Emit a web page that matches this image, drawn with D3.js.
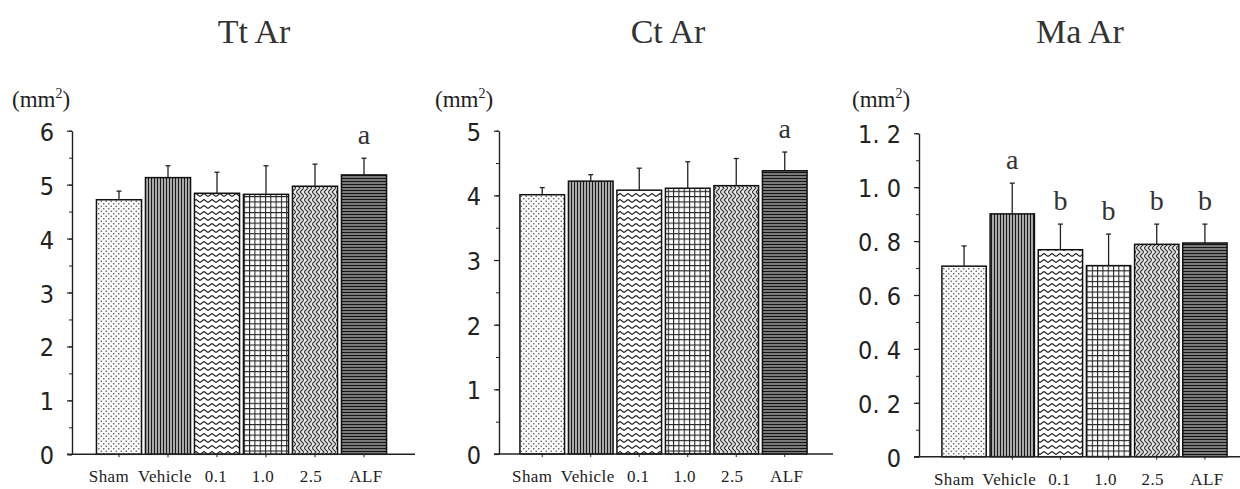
<!DOCTYPE html>
<html>
<head>
<meta charset="utf-8">
<script src="https://cdn.jsdelivr.net/npm/d3@7"></script>
<style>
  html, body { margin: 0; padding: 0; background: #fff; }
  svg { display: block; }
</style>
</head>
<body>
<svg id="chart" width="1240" height="489"></svg>
<script>
// ---------------- data ----------------
const categories = ["Sham", "Vehicle", "0.1", "1.0", "2.5", "ALF"];

const ttArMean = [4.72, 5.13, 4.84, 4.82, 4.97, 5.18];
const ttArSD   = [0.16, 0.22, 0.39, 0.53, 0.41, 0.31];
const ttArSig  = ["", "", "", "", "", "a"];
const ttArTicks = [0, 1, 2, 3, 4, 5, 6];
const ttArTickLabels = ["0", "1", "2", "3", "4", "5", "6"];

const ctArMean = [4.01, 4.22, 4.08, 4.11, 4.15, 4.38];
const ctArSD   = [0.11, 0.10, 0.34, 0.41, 0.42, 0.29];
const ctArSig  = ["", "", "", "", "", "a"];
const ctArTicks = [0, 1, 2, 3, 4, 5];
const ctArTickLabels = ["0", "1", "2", "3", "4", "5"];

const maArMean = [0.707, 0.901, 0.768, 0.709, 0.788, 0.793];
const maArSD   = [0.075, 0.114, 0.095, 0.117, 0.075, 0.070];
const maArSig  = ["", "a", "b", "b", "b", "b"];
const maArTicks = [0, 0.2, 0.4, 0.6, 0.8, 1.0, 1.2];
const maArTickLabels = ["0", "0. 2", "0. 4", "0. 6", "0. 8", "1. 0", "1. 2"];

const titles = ["Tt Ar", "Ct Ar", "Ma Ar"];
const unitLabel = "(mm", unitSup = "2";

// ---------------- layout ----------------
const labelShift = [-10, -3, -1, -3, -4, 2];   // small horizontal nudges of category labels
const panels = [
  { title: titles[0], mean: ttArMean, sd: ttArSD, sig: ttArSig, ticks: ttArTicks, tickLabels: ttArTickLabels,
    max: 6, minorStep: 0.5, axisX: 72, y0: 454.3, yTop: 130.7, band: [94.5, 388.5], xLineEnd: 415,
    titleX: 254, unitX: 12 },
  { title: titles[1], mean: ctArMean, sd: ctArSD, sig: ctArSig, ticks: ctArTicks, tickLabels: ctArTickLabels,
    max: 5, minorStep: 0.5, axisX: 499, y0: 454, yTop: 130.7, band: [518, 809], xLineEnd: 833,
    titleX: 668, unitX: 435 },
  { title: titles[2], mean: maArMean, sd: maArSD, sig: maArSig, ticks: maArTicks, tickLabels: maArTickLabels,
    max: 1.2, minorStep: 0.1, axisX: 919, y0: 456.7, yTop: 133.3, band: [940, 1229], xLineEnd: 1240,
    titleX: 1080, unitX: 852 }
];

const svg = d3.select("#chart");
const defs = svg.append("defs");
const ink = "#222";

// ---------------- patterns ----------------
function pat(id, w, h, bg) {
  const p = defs.append("pattern").attr("id", id).attr("patternUnits", "userSpaceOnUse")
    .attr("width", w).attr("height", h);
  p.append("rect").attr("width", w).attr("height", h).attr("fill", bg);
  return p;
}
// dots
{
  const p = pat("p0", 5, 5, "#fcfcfc");
  p.append("circle").attr("cx", 1.25).attr("cy", 1.25).attr("r", 0.8).attr("fill", "#555");
  p.append("circle").attr("cx", 3.75).attr("cy", 3.75).attr("r", 0.8).attr("fill", "#555");
}
// vertical lines
{
  const p = pat("p1", 3, 10, "#c4c4c4");
  p.append("line").attr("x1", 1.5).attr("x2", 1.5).attr("y1", 0).attr("y2", 10)
    .attr("stroke", "#1a1a1a").attr("stroke-width", 1.3);
}
// horizontal zigzag waves
{
  const p = pat("p2", 8, 6, "#fff");
  p.append("path").attr("d", "M0,4.5 L4,1.5 L8,4.5").attr("fill", "none")
    .attr("stroke", "#222").attr("stroke-width", 1.1);
}
// grid
{
  const p = pat("p3", 5.3, 5.3, "#fff");
  p.append("path").attr("d", "M0.5,0 V5.3 M0,0.5 H5.3").attr("fill", "none")
    .attr("stroke", "#222").attr("stroke-width", 1.1);
}
// herringbone-ish
{
  const p = pat("p4", 8, 8, "#e6e6e6");
  p.append("path").attr("d", "M0,0 L4,4 L0,8 M4,0 L8,4 L4,8").attr("fill", "none")
    .attr("stroke", "#333").attr("stroke-width", 1.1);
}
// horizontal lines dark
{
  const p = pat("p5", 10, 3, "#8c8c8c");
  p.append("line").attr("x1", 0).attr("x2", 10).attr("y1", 1.5).attr("y2", 1.5)
    .attr("stroke", "#151515").attr("stroke-width", 1.3);
}
const fills = ["url(#p0)", "url(#p1)", "url(#p2)", "url(#p3)", "url(#p4)", "url(#p5)"];

const serif = "'Liberation Serif', 'Times New Roman', serif";
const narrow = "'Liberation Sans Narrow', 'DejaVu Sans Condensed', 'Arial Narrow', sans-serif";

// ---------------- draw ----------------
panels.forEach(P => {
  const g = svg.append("g");
  const y = d3.scaleLinear().domain([0, P.max]).range([P.y0, P.yTop]);
  const x = d3.scaleBand().domain(categories).range(P.band).paddingInner(0.08).paddingOuter(0.04);

  // title
  g.append("text").attr("x", P.titleX).attr("y", 43).attr("text-anchor", "middle")
    .attr("font-family", serif).attr("font-size", 34).attr("fill", "#333").text(P.title);

  // unit label
  const u = g.append("text").attr("x", P.unitX).attr("y", 107)
    .attr("font-family", serif).attr("font-size", 23).attr("fill", "#222");
  u.append("tspan").text(unitLabel);
  u.append("tspan").attr("font-size", 14).attr("dy", -9).text(unitSup);
  u.append("tspan").attr("dy", 9).text(")");

  // minor ticks
  const nMinor = Math.round(P.max / P.minorStep);
  const minorVals = d3.range(nMinor + 1).map(i => i * P.minorStep);
  g.append("g").attr("transform", `translate(${P.axisX},0)`)
    .call(d3.axisLeft(y).tickValues(minorVals).tickSize(3).tickFormat(""))
    .call(a => a.select(".domain").remove())
    .call(a => a.selectAll("line").attr("stroke", ink).attr("stroke-width", 1));

  // major axis
  const yAxis = g.append("g").attr("transform", `translate(${P.axisX},0)`)
    .call(d3.axisLeft(y).tickValues(P.ticks).tickSize(5).tickSizeOuter(0).tickPadding(13)
      .tickFormat((d, i) => P.tickLabels[i]));
  yAxis.select(".domain").attr("stroke", ink).attr("stroke-width", 1.4);
  yAxis.selectAll("line").attr("stroke", ink).attr("stroke-width", 1.2);
  yAxis.selectAll("text").attr("font-family", narrow).attr("font-size", 25).attr("fill", "#222")
    .attr("dy", "0.38em");

  // bars
  g.append("g").selectAll("rect").data(categories).join("rect")
    .attr("x", d => x(d)).attr("width", x.bandwidth())
    .attr("y", (d, i) => y(P.mean[i])).attr("height", (d, i) => y(0) - y(P.mean[i]))
    .attr("fill", (d, i) => fills[i]).attr("stroke", "#111").attr("stroke-width", 1.5);

  // error bars
  const eb = g.append("g").attr("stroke", "#222").attr("stroke-width", 1.3);
  categories.forEach((c, i) => {
    const cx = x(c) + x.bandwidth() / 2;
    eb.append("line").attr("x1", cx).attr("x2", cx)
      .attr("y1", y(P.mean[i])).attr("y2", y(P.mean[i] + P.sd[i]));
    eb.append("line").attr("x1", cx - 2.5).attr("x2", cx + 2.5)
      .attr("y1", y(P.mean[i] + P.sd[i])).attr("y2", y(P.mean[i] + P.sd[i]));
  });

  // significance letters
  g.append("g").selectAll("text").data(categories).join("text")
    .attr("x", d => x(d) + x.bandwidth() / 2)
    .attr("y", (d, i) => y(P.mean[i] + P.sd[i]) - 14)
    .attr("text-anchor", "middle").attr("font-family", serif).attr("font-size", 28).attr("fill", "#333")
    .text((d, i) => P.sig[i]);

  // x axis
  const xAxis = g.append("g").attr("transform", `translate(0,${P.y0})`)
    .call(d3.axisBottom(x).tickSize(3).tickPadding(13).tickSizeOuter(0));
  xAxis.select(".domain").remove();
  xAxis.selectAll("line").attr("stroke", ink).attr("stroke-width", 1);
  xAxis.selectAll("text").attr("font-family", serif).attr("font-size", 17).attr("fill", "#222")
    .attr("letter-spacing", 0.4)
    .attr("dx", (d, i) => labelShift[i]);
  g.append("line").attr("x1", P.axisX - 5).attr("x2", P.xLineEnd)
    .attr("y1", P.y0).attr("y2", P.y0).attr("stroke", ink).attr("stroke-width", 1.4);
});
</script>
</body>
</html>
